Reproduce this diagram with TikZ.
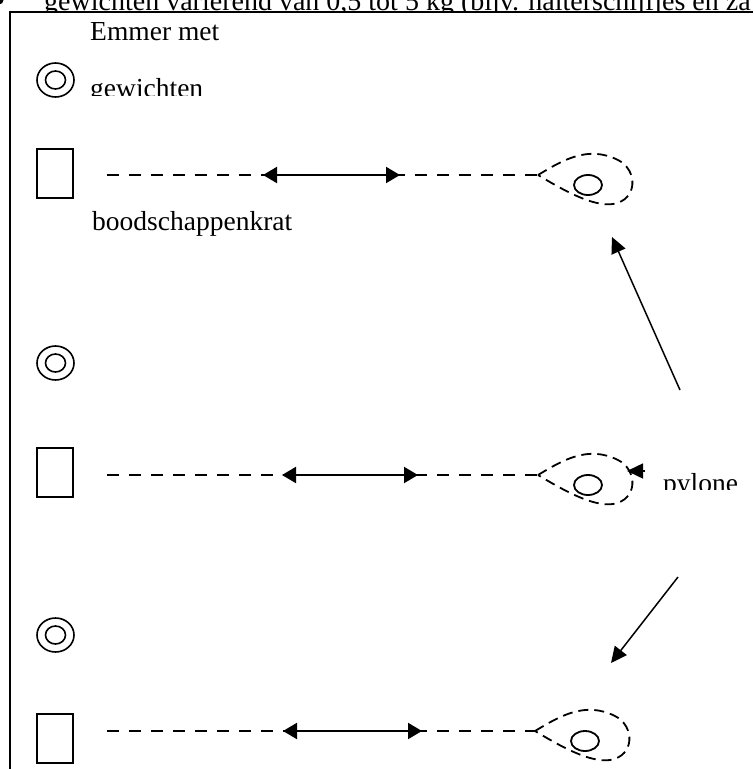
\documentclass[tikz,border=0pt]{standalone}
\usepackage{fontspec}
\setmainfont{Liberation Serif}
\usetikzlibrary{arrows.meta,shapes.geometric}
\tikzset{
  emmer/.style={draw, ellipse, line width=1.6pt, minimum width=37pt, minimum height=34pt, inner sep=0pt,
    path picture={\draw[line width=1.6pt] (path picture bounding box.center) ellipse [x radius=10pt, y radius=9pt];}},
  krat/.style={draw, line width=1.8pt, minimum width=36pt, minimum height=49pt, inner sep=0pt},
  lijn/.style={line width=2pt, dash pattern=on 12pt off 10pt},
  pijl/.style={line width=2pt, {Triangle[length=14pt,width=16pt]}-{Triangle[length=14pt,width=16pt]}},
  wijs/.style={line width=1.5pt, -{Triangle[length=16pt,width=15pt]}},
  tekst/.style={font=\fontsize{27.5}{30}\selectfont, inner sep=0pt, anchor=base west},
  pylon/.pic={
    \draw[line width=1.8pt, dash pattern=on 10pt off 6pt] (0,0) .. controls (25,-15) and (50,-30) .. (80,-15)
      .. controls (100,-5) and (100,25) .. (75,29) .. controls (55,32) and (25,15) .. (0,0);
    \draw[line width=1.8pt] (50,10) ellipse [x radius=14pt, y radius=10pt];
  }
}
\begin{document}
\begin{tikzpicture}[x=1pt,y=-1pt]
\useasboundingbox (0,0) rectangle (753,769);
\clip (0,0) rectangle (753,769);
% bovenste regel
\fill (-1,0) circle (4.5pt);
\begin{scope}
\clip (0,-20) rectangle (753,11);
\node[tekst, font=\fontsize{28}{30}\selectfont] (kop) at (44,10) {gewichten variërend van 0,5 tot 5 kg (bijv. halterschijfjes en za};
\end{scope}
\draw[line width=2pt] (10,769) -- (10,12) -- (753,12);
%
\node[tekst] (emmertxt) at (90,40) {Emmer met};
\begin{scope}
\clip (60,60) rectangle (300,95);
\node[tekst] (gewtxt) at (90,97) {gewichten};
\end{scope}
\node[tekst] (krattxt) at (92,230) {boodschappenkrat};
\begin{scope}
\clip (650,440) rectangle (753,489);
\node[tekst] (pylontxt) at (663,492) {pylone};
\end{scope}
%
\node[emmer] (emmer1) at (55.5,80) {};
\node[emmer] (emmer2) at (55.5,363) {};
\node[emmer] (emmer3) at (55.5,635) {};
\node[krat] (krat1) at (55,173.5) {};
\node[krat] (krat2) at (55,472.5) {};
\node[krat] (krat3) at (55,738.5) {};
%
\pic at (538,175) {pylon};
\pic at (538,475) {pylon};
\pic at (535,731) {pylon};
\coordinate (l1) at (107,175); \coordinate (r1) at (538,175);
\coordinate (l2) at (107,475); \coordinate (r2) at (538,475);
\coordinate (l3) at (107,731); \coordinate (r3) at (535,731);
\coordinate (a1) at (263,175); \coordinate (b1) at (400,175);
\coordinate (a2) at (282,475); \coordinate (b2) at (418,475);
\coordinate (a3) at (283,731); \coordinate (b3) at (422,731);
\draw[lijn] (l1) -- (r1);
\draw[lijn] (l2) -- (r2);
\draw[lijn] (l3) -- (r3);
\draw[pijl] (a1) -- (b1);
\draw[pijl] (a2) -- (b2);
\draw[pijl] (a3) -- (b3);
%
\coordinate (op) at (680,390); \coordinate (boven) at (612,237);
\coordinate (neer) at (678,577); \coordinate (onder) at (611,663);
\coordinate (mid) at (645,471); \coordinate (midtip) at (627,471);
\draw[wijs] (op) -- (boven);
\draw[wijs] (neer) -- (onder);
\draw[wijs] (mid) -- (midtip);
\end{tikzpicture}
\end{document}
